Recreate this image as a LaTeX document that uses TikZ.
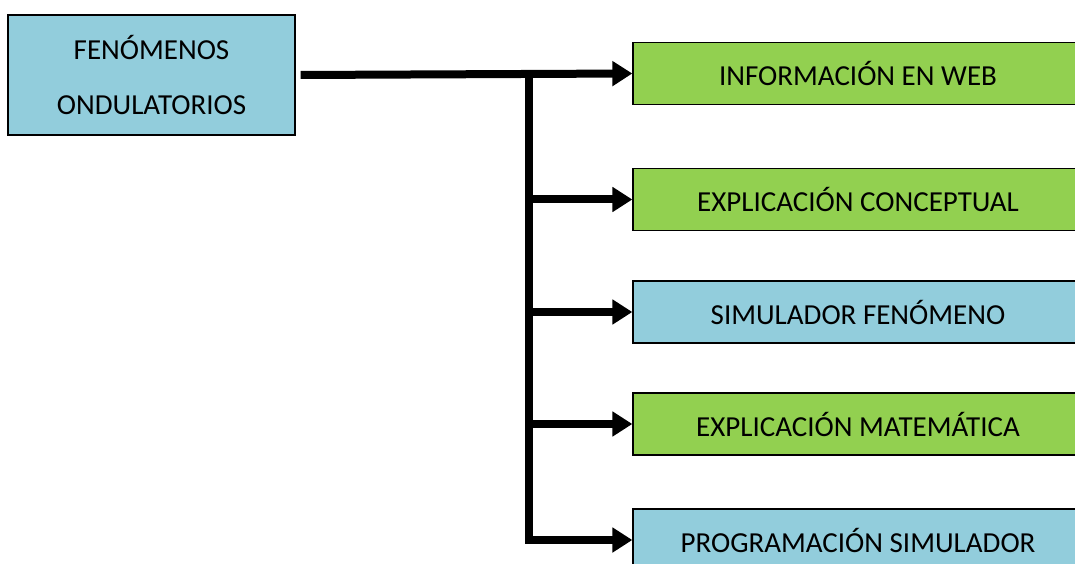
\documentclass[tikz,border=0pt]{standalone}
\usepackage{fontspec}
\setmainfont{Carlito}
\usetikzlibrary{arrows.meta}
\definecolor{azulc}{HTML}{92CDDC}
\definecolor{verdec}{HTML}{92D050}
\begin{document}
\begin{tikzpicture}[x=1pt,y=1pt,line join=miter,font=\fontsize{29}{35}\selectfont,
  caja/.style={draw=black,line width=1.3pt,inner sep=0pt,minimum height=62pt},
  tema/.style={caja,fill=azulc,minimum width=287pt,minimum height=120pt,align=center},
  rama/.style={caja,minimum width=450pt},
  flecha/.style={line width=8pt,-{Triangle[length=20pt,width=24pt]}}]
	\useasboundingbox (0,0) rectangle (1075,563);
	\node[tema] (fen) at (151.5,488) {FENÓMENOS\\[20pt]ONDULATORIOS};
	\node[rama,fill=verdec] (web) at (858,489.5) {INFORMACIÓN EN WEB};
	\node[rama,fill=verdec] (con) at (858,363.5) {EXPLICACIÓN CONCEPTUAL};
	\node[rama,fill=azulc] (sim) at (858,251) {SIMULADOR FENÓMENO};
	\node[rama,fill=verdec] (mat) at (858,139) {EXPLICACIÓN MATEMÁTICA};
	\node[rama,fill=azulc] (prog) at (858,23) {PROGRAMACIÓN SIMULADOR};
	\coordinate (bus) at (529,489.5);
	\draw[flecha] ([xshift=5pt]fen.east) -- (web.west);
	\draw[flecha] (bus) |- (prog.west);
	\foreach \n in {con,sim,mat}
		\draw[flecha] (bus |- \n.west) -- (\n.west);
\end{tikzpicture}
\end{document}
